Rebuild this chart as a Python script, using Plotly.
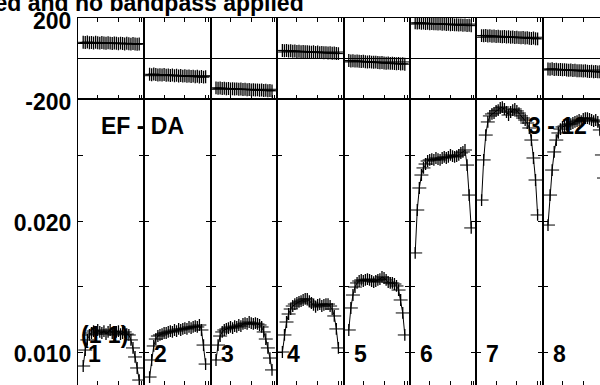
import plotly.graph_objects as go

# ---------------- data ----------------
channels = list(range(3, 31))          # plotted channels of each IF
if_labels = ["1", "2", "3", "4", "5", "6", "7", "8"]

amp_if1 = [0.00893, 0.01015, 0.01092, 0.01130, 0.01145, 0.01160, 0.01137, 0.01168, 0.01153, 0.01145,
           0.01160, 0.01137, 0.01153, 0.01168, 0.01145, 0.01130, 0.01153, 0.01160, 0.01137, 0.01145,
           0.01153, 0.01137, 0.01130, 0.01092, 0.01031, 0.00962, 0.00878, 0.00786]
amp_if2 = [0.00809, 0.00939, 0.01046, 0.01099, 0.01122, 0.01130, 0.01137, 0.01145, 0.01145, 0.01153,
           0.01160, 0.01153, 0.01168, 0.01160, 0.01176, 0.01168, 0.01176, 0.01183, 0.01176, 0.01191,
           0.01183, 0.01191, 0.01198, 0.01191, 0.01206, 0.01168, 0.01053, 0.00908]
amp_if3 = [0.00939, 0.01053, 0.01122, 0.01153, 0.01168, 0.01176, 0.01183, 0.01191, 0.01183, 0.01198,
           0.01191, 0.01206, 0.01198, 0.01214, 0.01221, 0.01214, 0.01229, 0.01221, 0.01214, 0.01221,
           0.01214, 0.01206, 0.01191, 0.01153, 0.01099, 0.01031, 0.00954, 0.00863]
amp_if4 = [0.01000, 0.01130, 0.01229, 0.01290, 0.01328, 0.01351, 0.01366, 0.01374, 0.01382, 0.01389,
           0.01397, 0.01405, 0.01405, 0.01389, 0.01374, 0.01359, 0.01344, 0.01359, 0.01366, 0.01351,
           0.01359, 0.01366, 0.01366, 0.01351, 0.01328, 0.01275, 0.01176, 0.01031]
amp_if5 = [0.01168, 0.01336, 0.01435, 0.01496, 0.01527, 0.01542, 0.01550, 0.01542, 0.01550, 0.01557,
           0.01550, 0.01542, 0.01534, 0.01542, 0.01550, 0.01557, 0.01573, 0.01565, 0.01550, 0.01534,
           0.01527, 0.01527, 0.01519, 0.01504, 0.01473, 0.01397, 0.01298, 0.01130]
amp_if6 = [0.01756, 0.02084, 0.02252, 0.02351, 0.02405, 0.02435, 0.02458, 0.02466, 0.02473, 0.02466,
           0.02481, 0.02473, 0.02466, 0.02481, 0.02489, 0.02481, 0.02489, 0.02504, 0.02496, 0.02489,
           0.02496, 0.02504, 0.02519, 0.02527, 0.02542, 0.02427, 0.02198, 0.01947]
amp_if7 = [0.02160, 0.02466, 0.02656, 0.02756, 0.02802, 0.02817, 0.02824, 0.02840, 0.02847, 0.02863,
           0.02870, 0.02855, 0.02832, 0.02809, 0.02832, 0.02847, 0.02855, 0.02840, 0.02824, 0.02802,
           0.02786, 0.02771, 0.02748, 0.02710, 0.02618, 0.02481, 0.02313, 0.02046]
amp_if8 = [0.01969, 0.02198, 0.02389, 0.02527, 0.02618, 0.02672, 0.02702, 0.02718, 0.02725, 0.02733,
           0.02740, 0.02740, 0.02748, 0.02756, 0.02763, 0.02771, 0.02763, 0.02779, 0.02786, 0.02786,
           0.02779, 0.02771, 0.02763, 0.02771, 0.02756, 0.02695, 0.02504, 0.02328]

phase_if1 = [80, 79, 81, 78, 79, 77, 80, 78, 76, 79, 77, 75, 78, 76, 74, 77, 75, 73, 76, 74, 72, 75, 73, 71, 74, 72, 70, 72]
phase_if2 = [-78, -80, -77, -79, -81, -80, -82, -79, -83, -81, -84, -82, -85, -83, -86, -84, -87, -85, -88, -86,
             -89, -87, -90, -88, -91, -89, -92, -90]
phase_if3 = [-145, -147, -146, -148, -147, -149, -148, -150, -149, -151, -150, -152, -151, -153, -152, -154,
             -153, -155, -154, -156, -155, -157, -156, -158, -157, -159, -158, -160]
phase_if4 = [40, 38, 39, 37, 38, 36, 37, 35, 36, 34, 35, 33, 34, 32, 31, 33, 30, 32, 29, 30, 28, 29, 27, 28, 26, 27, 25, 24]
phase_if5 = [-10, -12, -11, -13, -12, -14, -15, -14, -16, -17, -16, -18, -19, -18, -20, -21, -20, -22, -23, -22,
             -24, -23, -25, -26, -25, -27, -26, -28]
phase_if6 = [176, 175, 177, 174, 175, 173, 174, 172, 173, 171, 172, 170, 171, 169, 170, 168, 169, 167, 168, 166,
             167, 165, 166, 164, 165, 163, 164, 162]
phase_if7 = [113, 112, 114, 111, 112, 110, 111, 109, 110, 108, 107, 109, 106, 107, 105, 106, 104, 105, 103, 102,
             104, 101, 102, 100, 99, 101, 98, 97]
phase_if8 = [-52, -53, -51, -54, -53, -55, -54, -56, -55, -57, -58, -57, -59, -58, -60, -61, -60, -62, -61, -63,
             -64, -63, -65, -64, -66, -65, -67, -66]
phase_model = [74, -85, -152, 32, -17, 170, 105, -57]

amp_error = 0.00045
phase_error = 32

channel_ticks = [10, 20, 30, 31.3]
amp_ticks = [0.010, 0.015, 0.020, 0.025]
amp_tick_text = ["0.010", "", "0.020", ""]
phase_ticks = [-200, 200]
phase_tick_text = ["-200", "200"]

title_text = "No calibration applied and no bandpass applied"
baseline_text = "EF - DA"
stokes_text = "(1 1)"
time_text = "3 - 12"

amps = [amp_if1, amp_if2, amp_if3, amp_if4, amp_if5, amp_if6, amp_if7, amp_if8]
phases = [phase_if1, phase_if2, phase_if3, phase_if4, phase_if5, phase_if6, phase_if7, phase_if8]

# ---------------- geometry ----------------
W, H = 600, 385
L = 78
PW = 66.4                 # panel width in px
NCH = 32
PXCH = PW / NCH
AREA = W - L
FONT = dict(family="Liberation Sans, Arial, sans-serif", size=23, color="black", weight="bold")


def px_x(px):
    return (px - L) / AREA


def px_y(py):
    return (H - py) / H


def ref(letter, i):
    return letter if i == 1 else f"{letter}{i}"


phase_dom = [px_y(99), px_y(18)]
amp_dom = [0, px_y(99)]

fig = go.Figure()
layout = dict(
    width=W, height=H,
    margin=dict(l=L, r=0, t=0, b=0, pad=0, autoexpand=False),
    paper_bgcolor="white", plot_bgcolor="white",
    showlegend=False,
    font=FONT,
)

for k in range(8):
    last = (k == 7)
    x0 = k * PW / AREA
    x1 = min((k + 1) * PW / AREA, 1.0)
    xr_end = 0.5 + (min((k + 1) * PW, AREA) - k * PW) / PXCH
    pi = k + 1
    ai = k + 9
    pxr, pyr = ref("x", pi), ref("y", pi)
    axr, ayr = ref("x", ai), ref("y", ai)
    pxn = "xaxis" if pi == 1 else f"xaxis{pi}"
    pyn = "yaxis" if pi == 1 else f"yaxis{pi}"
    axn = f"xaxis{ai}"
    ayn = f"yaxis{ai}"

    common_x = dict(range=[0.5, xr_end], tickvals=channel_ticks, ticks="inside", ticklen=4,
                    tickcolor="black", tickwidth=1, showline=True, linecolor="black", linewidth=1,
                    showgrid=False, zeroline=False, showticklabels=False, domain=[x0, x1],
                    automargin=False)
    layout[pxn] = dict(common_x, anchor=pyr, mirror="ticks")
    layout[axn] = dict(common_x, anchor=ayr, mirror=True)

    layout[pyn] = dict(domain=phase_dom, anchor=pxr, range=[-200, 200],
                       tickvals=phase_ticks, ticktext=phase_tick_text, ticks="",
                       showline=True, linecolor="black", linewidth=1,
                       mirror=(False if last else True),
                       showgrid=False, zeroline=True, zerolinecolor="black", zerolinewidth=1,
                       showticklabels=(k == 0), tickfont=FONT, ticklabelstandoff=1,
                       ticklabelshift=3, automargin=False)
    layout[ayn] = dict(domain=amp_dom, anchor=axr, range=[0.007481, 0.029313],
                       tickvals=amp_ticks, ticktext=amp_tick_text, ticks="inside", ticklen=5,
                       tickcolor="black", tickwidth=1,
                       showline=True, linecolor="black", linewidth=1,
                       mirror=(False if last else "ticks"),
                       showgrid=False, zeroline=False,
                       showticklabels=(k == 0), tickfont=FONT, ticklabelstandoff=1,
                       ticklabelshift=2, automargin=False)

    fig.add_trace(go.Scatter(
        x=channels, y=phases[k], xaxis=pxr, yaxis=pyr, mode="markers",
        marker=dict(symbol="line-ew", size=8, color="black", line=dict(width=1, color="black")),
        error_y=dict(type="constant", value=phase_error, width=0, thickness=1.3, color="black"),
        hoverinfo="skip"))
    fig.add_shape(type="line", xref=f"{pxr} domain", x0=0, x1=1,
                  yref=pyr, y0=phase_model[k], y1=phase_model[k],
                  line=dict(color="black", width=1))

    fig.add_trace(go.Scatter(
        x=channels, y=amps[k], xaxis=axr, yaxis=ayr, mode="lines+markers",
        line=dict(color="black", width=1),
        marker=dict(symbol="line-ew", size=10, color="black", line=dict(width=1, color="black")),
        error_y=dict(type="constant", value=amp_error, width=0, thickness=1.3, color="black"),
        hoverinfo="skip"))

annotations = []
annotations.append(dict(text=title_text, xref="paper", yref="paper", x=px_x(306), y=px_y(3),
                        xanchor="right", yanchor="middle", showarrow=False, font=FONT))
annotations.append(dict(text=baseline_text, xref="paper", yref="paper", x=px_x(99), y=px_y(126),
                        xanchor="left", yanchor="middle", showarrow=False, font=FONT))
annotations.append(dict(text=stokes_text, xref="paper", yref="paper", x=px_x(79), y=px_y(335),
                        xanchor="left", yanchor="middle", showarrow=False, font=FONT))
annotations.append(dict(text=time_text, xref="paper", yref="paper", x=px_x(526), y=px_y(126),
                        xanchor="left", yanchor="middle", showarrow=False, font=FONT))
for k, lab in enumerate(if_labels):
    annotations.append(dict(text=lab, xref="paper", yref="paper", x=px_x(L + k * PW + 8), y=px_y(353.5),
                            xanchor="left", yanchor="middle", showarrow=False, font=FONT))
layout["annotations"] = annotations

fig.update_layout(**layout)
fig.write_html("out.html", config={"displayModeBar": False},
               post_script="document.body.style.margin='0';document.body.style.overflow='hidden';")
